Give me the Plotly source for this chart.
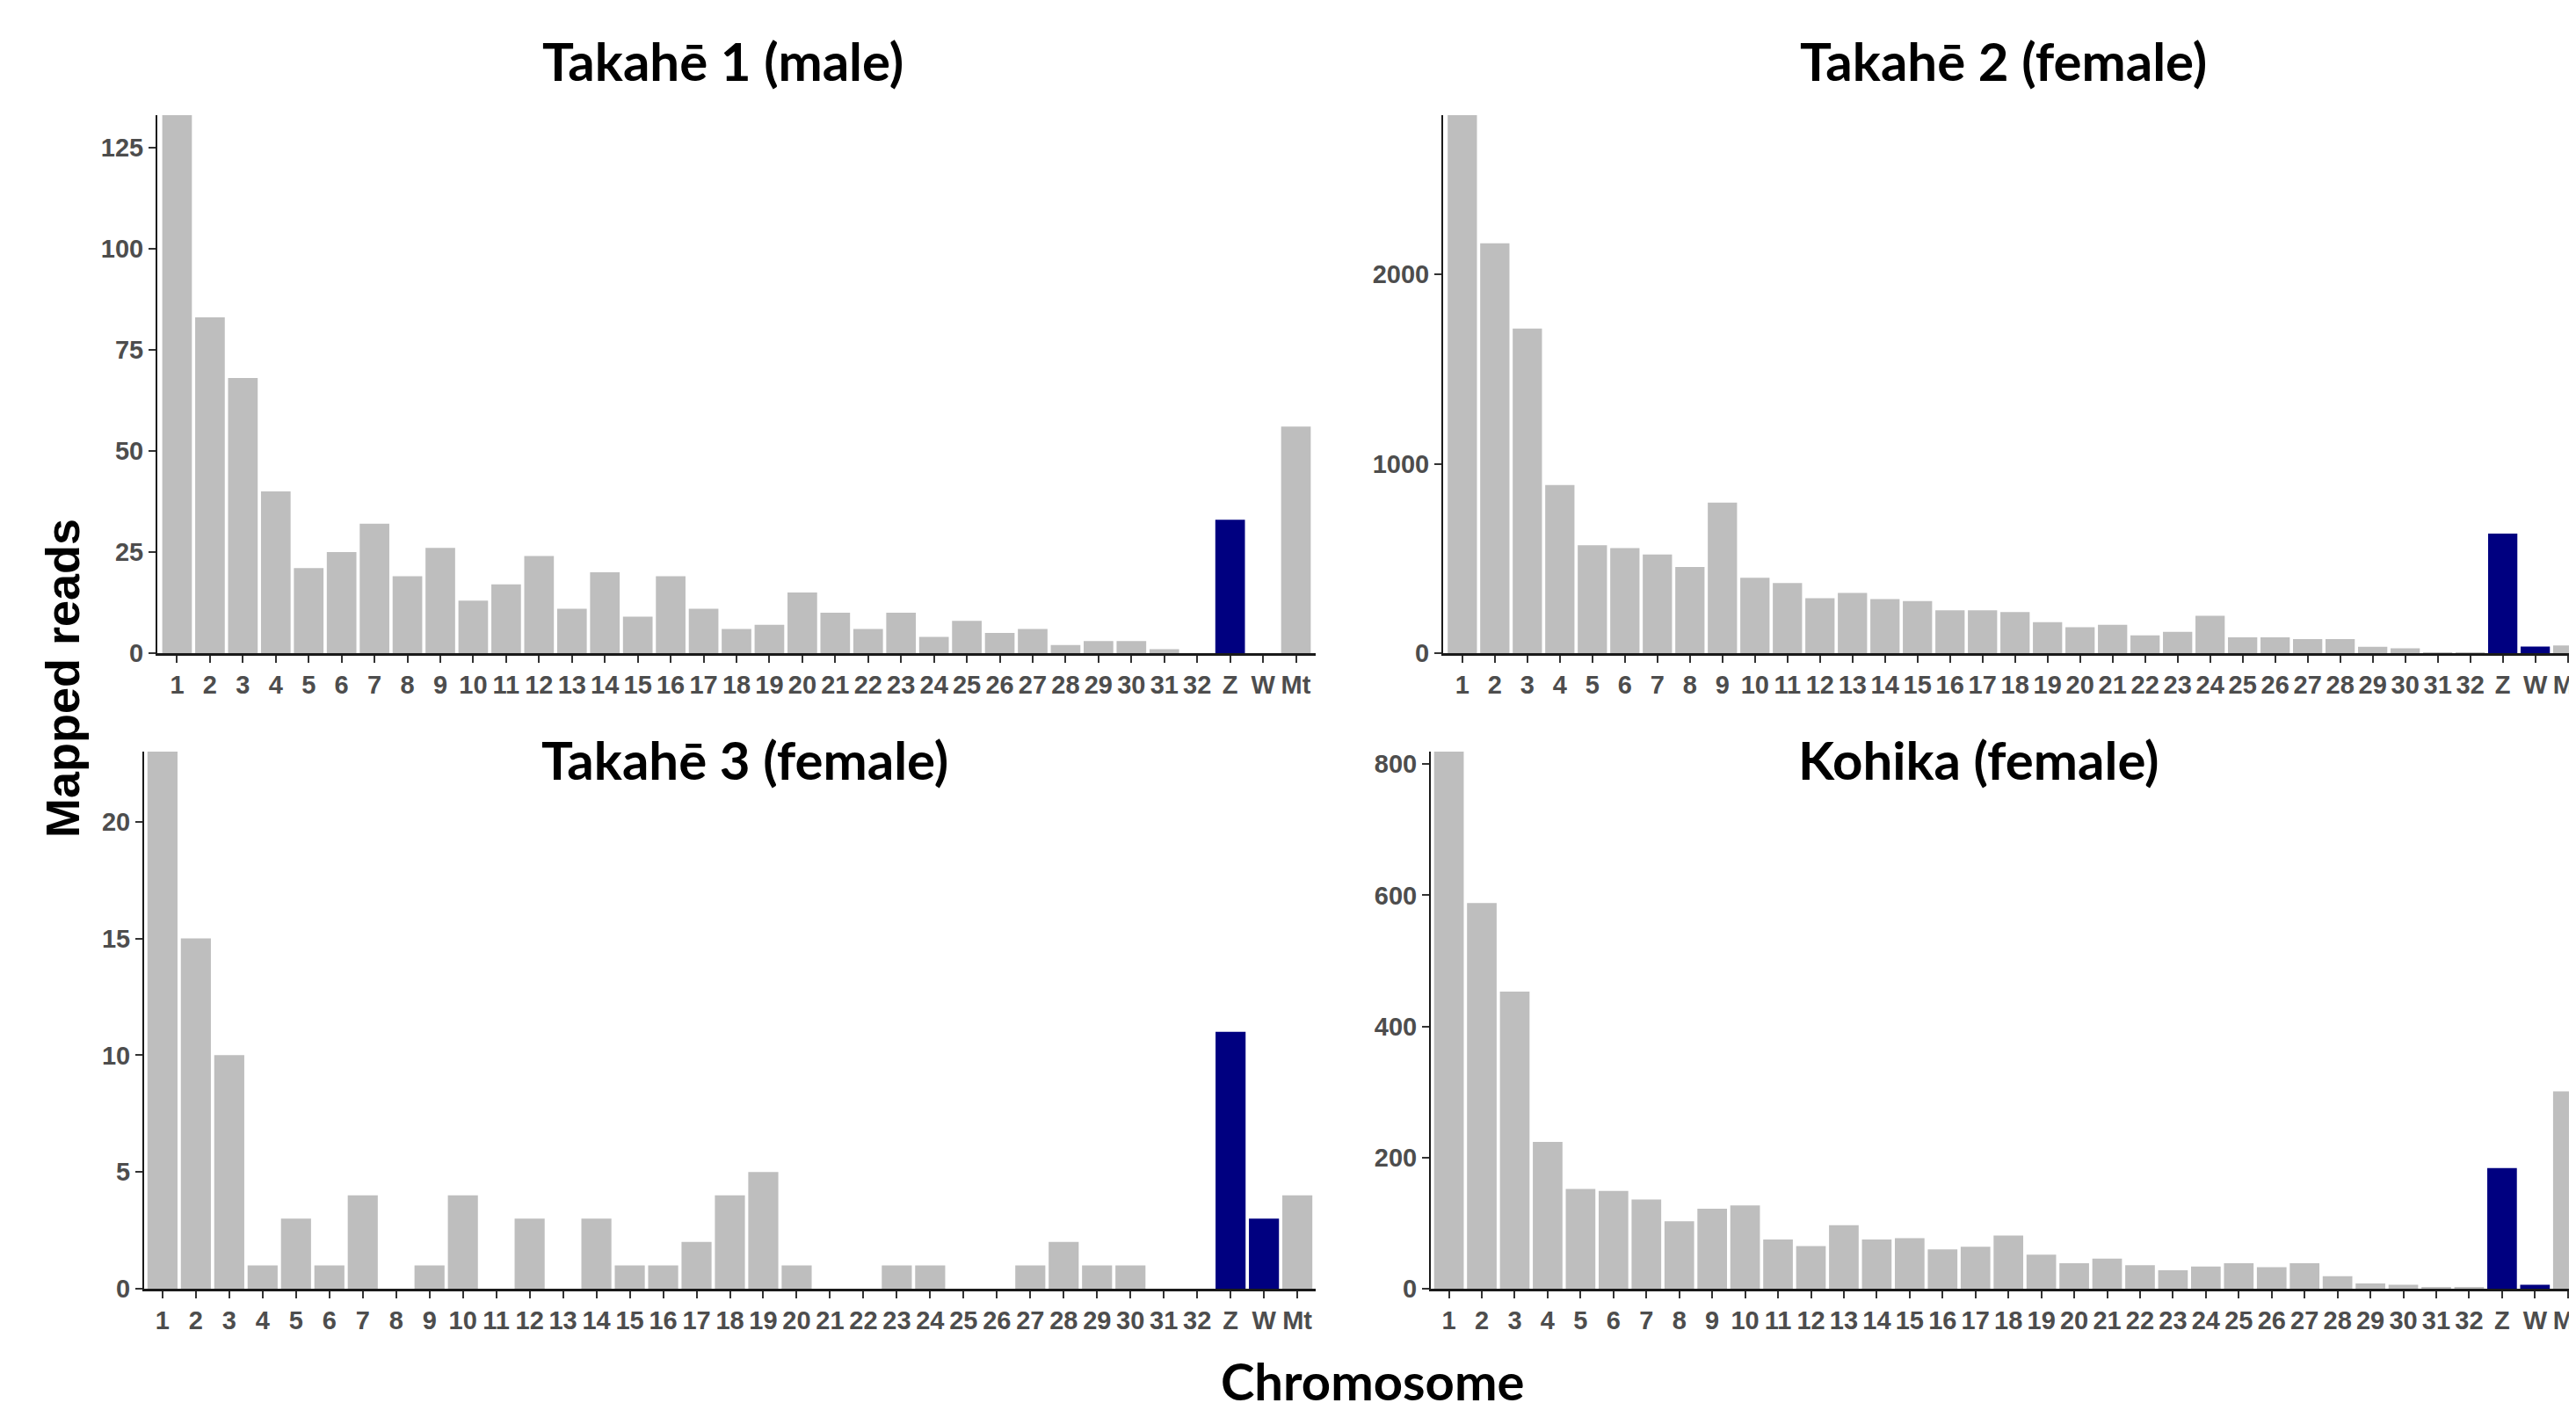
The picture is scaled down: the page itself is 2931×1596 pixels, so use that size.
import plotly.graph_objects as go

categories = [str(i) for i in range(1, 33)] + ["Z", "W", "Mt"]

takahe1 = [133, 83, 68, 40, 21, 25, 32, 19, 26, 13, 17, 24, 11, 20, 9, 19, 11, 6, 7, 15,
           10, 6, 10, 4, 8, 5, 6, 2, 3, 3, 1, 0, 33, 0, 56]
takahe2 = [2840, 2164, 1714, 888, 570, 555, 521, 455, 795, 398, 370, 290, 318, 285, 275, 226,
           226, 217, 164, 137, 150, 94, 112, 197, 84, 84, 74, 74, 34, 25, 1, 3, 631, 35, 41]
takahe3 = [23, 15, 10, 1, 3, 1, 4, 0, 1, 4, 0, 3, 0, 3, 1, 1, 2, 4, 5, 1,
           0, 0, 1, 1, 0, 0, 1, 2, 1, 1, 0, 0, 11, 3, 4]
kohika = [819, 588, 453, 224, 152, 149, 136, 103, 122, 127, 75, 65, 97, 75, 77, 60, 64, 81, 52, 39,
          46, 36, 28, 34, 39, 33, 39, 19, 8, 6, 2, 2, 184, 6, 301]

titles = ["Takahē 1 (male)", "Takahē 2 (female)", "Takahē 3 (female)", "Kohika (female)"]
y_max = [133, 2840, 23, 819]
y_dtick = [25, 1000, 5, 200]
sex_chroms = ["Z", "W"]

GREY = "#BEBEBE"
NAVY = "#000080"
TICK_COL = "#4D4D4D"

W, H = 2931, 1596
OFF = 8  # page body margin offset


def px(xs):
    return (xs - OFF) / W


def py(ys):
    return 1 - (ys - OFF) / H


# panel geometry (screen pixels)
panels = [
    dict(x0=179, x1=1497, y0=131, y1=743, xr=[0.4, 35.6], tx=822, ty=69),
    dict(x0=1642, x1=W + OFF, y0=131, y1=743, xr=[0.41, 35.47], tx=2279, ty=69),
    dict(x0=164, x1=1497, y0=855, y1=1466, xr=[0.45, 35.55], tx=847, ty=864),
    dict(x0=1628, x1=W + OFF, y0=855, y1=1466, xr=[0.45, 35.46], tx=2251, ty=864),
]

series = [takahe1, takahe2, takahe3, kohika]
xs = list(range(1, len(categories) + 1))
colors = [NAVY if c in sex_chroms else GREY for c in categories]

fig = go.Figure()
layout = dict(
    width=W, height=H,
    margin=dict(l=0, r=0, t=0, b=0),
    paper_bgcolor="white", plot_bgcolor="white",
    showlegend=False,
    annotations=[],
)

tickfont = dict(family="Liberation Sans, Arial, sans-serif", size=29, color=TICK_COL, weight="bold")

for i, (p, vals) in enumerate(zip(panels, series)):
    n = "" if i == 0 else str(i + 1)
    fig.add_trace(go.Bar(
        x=xs, y=vals, width=0.9,
        marker=dict(color=colors, line=dict(width=0)),
        xaxis="x" + n, yaxis="y" + n,
    ))
    layout["xaxis" + n] = dict(
        domain=[px(p["x0"]), min(1, px(p["x1"]))],
        anchor="y" + n,
        range=p["xr"],
        tickmode="array", tickvals=xs, ticktext=categories,
        ticks="outside", ticklen=8, tickwidth=2, tickcolor="#333333",
        showline=True, linecolor="#1a1a1a", linewidth=3,
        showgrid=False, zeroline=False,
        tickfont=tickfont, tickangle=0, automargin=False,
        ticklabeloverflow="allow",
    )
    layout["yaxis" + n] = dict(
        domain=[py(p["y1"]), py(p["y0"])],
        anchor="x" + n,
        range=[0, y_max[i]],
        tick0=0, dtick=y_dtick[i],
        ticks="outside", ticklen=8, tickwidth=2, tickcolor="#333333",
        showline=True, linecolor="#1a1a1a", linewidth=2,
        showgrid=False, zeroline=False,
        tickfont=tickfont, automargin=False,
    )
    layout["annotations"].append(dict(
        text="<b>" + titles[i] + "</b>", x=px(p["tx"]), y=py(p["ty"]),
        xref="paper", yref="paper", showarrow=False,
        xanchor="center", yanchor="middle",
        font=dict(family="Lato, Open Sans, sans-serif", size=60, color="black"),
    ))

layout["annotations"].append(dict(
    text="<b>Mapped reads</b>", x=px(71), y=py(772), xref="paper", yref="paper",
    showarrow=False, textangle=-90, xanchor="center", yanchor="middle",
    font=dict(family="Liberation Sans, Arial, sans-serif", size=54, color="black"),
))
layout["annotations"].append(dict(
    text="<b>Chromosome</b>", x=px(1561), y=py(1570), xref="paper", yref="paper",
    showarrow=False, xanchor="center", yanchor="middle",
    font=dict(family="Lato, Open Sans, sans-serif", size=58, color="black"),
))

fig.update_layout(**layout)
fig.write_html("out.html")
